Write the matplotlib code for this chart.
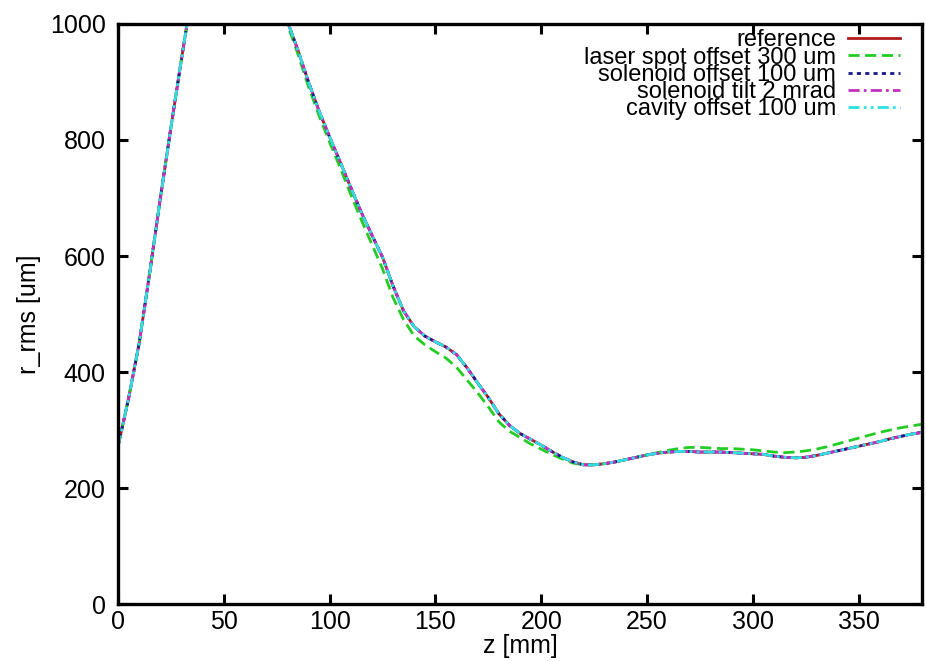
import numpy as np
import matplotlib
matplotlib.use("Agg")
import matplotlib.pyplot as plt

# z positions [mm], 5 mm steps
z = np.arange(0, 381, 5)

r_reference = [
    272, 355, 450, 572, 700, 822, 940, 1055, 1160, 1240, 1280, 1285, 1250, 1190, 1120, 1058,
    1005, 955, 900, 850, 805, 762, 718, 675, 636, 598, 548, 505, 478, 462, 452, 443,
    430, 407, 381, 356, 328, 308, 294, 284, 274, 263, 253, 245, 240, 240, 242, 245,
    249, 253, 257, 260, 262, 263, 263, 262, 262, 262, 261, 260, 259, 258, 255, 253,
    252, 253, 256, 260, 264, 268, 272, 276, 280, 285, 289, 293, 296]
r_laser = [
    272, 355, 450, 572, 700, 822, 940, 1055, 1160, 1240, 1280, 1285, 1250, 1190, 1120, 1055,
    1000, 948, 892, 842, 796, 752, 706, 662, 620, 578, 528, 490, 462, 447, 435, 424,
    408, 386, 364, 340, 314, 298, 287, 276, 267, 258, 250, 243, 240, 240, 242, 245,
    249, 253, 257, 261, 265, 268, 270, 270, 269, 268, 268, 267, 266, 264, 262, 261,
    262, 264, 267, 271, 276, 281, 286, 291, 296, 300, 304, 307, 310]
r_sol_offset = [
    272, 355, 450, 572, 700, 822, 940, 1055, 1160, 1240, 1280, 1285, 1250, 1190, 1120, 1058,
    1005, 955, 900, 850, 805, 762, 718, 675, 636, 598, 548, 505, 478, 462, 452, 443,
    430, 407, 381, 356, 328, 308, 294, 284, 274, 263, 253, 245, 240, 240, 242, 245,
    249, 253, 257, 260, 262, 263, 263, 262, 262, 262, 261, 260, 259, 258, 255, 253,
    252, 253, 256, 260, 264, 268, 272, 276, 280, 285, 289, 293, 296]
r_sol_tilt = [
    272, 355, 450, 572, 700, 822, 940, 1055, 1160, 1240, 1280, 1285, 1250, 1190, 1120, 1058,
    1005, 955, 900, 850, 805, 762, 718, 675, 636, 598, 548, 505, 478, 462, 452, 443,
    430, 407, 381, 356, 328, 308, 294, 284, 274, 263, 253, 245, 240, 240, 242, 245,
    249, 253, 257, 260, 262, 263, 263, 262, 262, 262, 261, 260, 259, 258, 255, 253,
    252, 253, 256, 260, 264, 268, 272, 276, 280, 285, 289, 293, 296]
r_cavity = [
    272, 355, 450, 572, 700, 822, 940, 1055, 1160, 1240, 1280, 1285, 1250, 1190, 1120, 1058,
    1005, 955, 900, 850, 805, 762, 718, 675, 636, 598, 548, 505, 478, 462, 452, 443,
    430, 407, 381, 356, 328, 308, 294, 284, 274, 263, 253, 245, 240, 240, 242, 245,
    249, 253, 257, 260, 262, 263, 263, 262, 262, 262, 261, 260, 259, 258, 255, 253,
    252, 253, 256, 260, 264, 268, 272, 276, 280, 285, 289, 293, 296]

labels = ["reference", "laser spot offset 300 um", "solenoid offset 100 um",
          "solenoid tilt 2 mrad", "cavity offset 100 um"]
x_ticks = [0, 50, 100, 150, 200, 250, 300, 350]
y_ticks = [0, 200, 400, 600, 800, 1000]

# line styles, gnuplot-like
styles = [
    dict(color="#b01c1c", linestyle="-"),
    dict(color="#22cc22", linestyle=(0, (4, 2))),
    dict(color="#1a1a8a", linestyle=(0, (1.5, 1.5))),
    dict(color="#c030c0", linestyle=(0, (4, 1.5, 1, 1.5))),
    dict(color="#30e0e0", linestyle=(0, (4, 1.5, 1, 1.5, 1, 1.5))),
]

plt.rcParams["font.family"] = ["Liberation Sans", "DejaVu Sans"]
fs = 18

fig = plt.figure(figsize=(9.26, 6.61), dpi=100)
ax = fig.add_axes([0.1275, 0.0862, 0.8682, 0.8775])

series = [r_reference, r_laser, r_sol_offset, r_sol_tilt, r_cavity]
for r, lab, st in zip(series, labels, styles):
    ax.plot(z, r, linewidth=2.0, label=lab, **st)

ax.set_xlim(0, 380)
ax.set_ylim(0, 1000)
ax.set_xticks(x_ticks)
ax.set_yticks(y_ticks)
ax.tick_params(direction="in", length=7, width=2.2, top=True, right=True,
               labelsize=fs)
ax.tick_params(axis="x", pad=4)
ax.tick_params(axis="y", pad=9)
for sp in ax.spines.values():
    sp.set_linewidth(2.4)

ax.set_xlabel("z [mm]", fontsize=fs, labelpad=0)
ax.set_ylabel("r_rms [um]", fontsize=fs, labelpad=6)

leg = ax.legend(loc="upper right", bbox_to_anchor=(0.975, 0.995), frameon=False,
                markerfirst=False, fontsize=17, handlelength=2.2,
                handletextpad=0.5, labelspacing=-0.2, borderpad=0.1,
                borderaxespad=0)
# right-align the legend rows like gnuplot
leg._legend_box._children[-1]._children[0].align = "right"

fig.savefig("out.png", dpi=100)
